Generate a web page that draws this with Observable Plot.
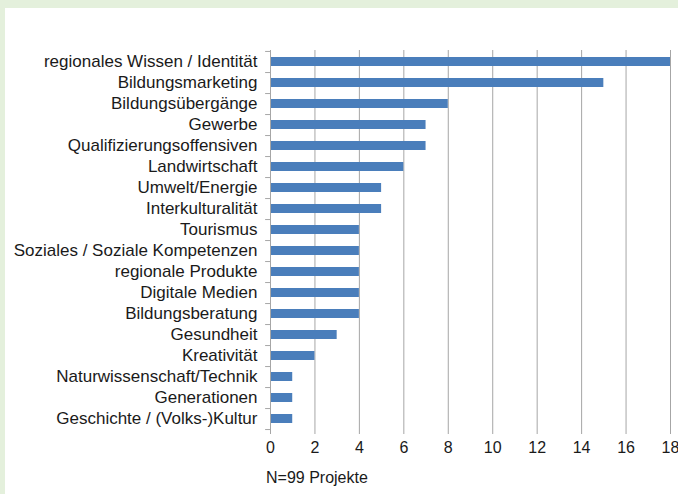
<!DOCTYPE html>
<html>
<head>
<meta charset="utf-8">
<script src="https://cdn.jsdelivr.net/npm/d3@7"></script>
<script src="https://cdn.jsdelivr.net/npm/@observablehq/plot@0.6"></script>
<style>
  html, body { margin: 0; padding: 0; background: #e4f0dc; }
  body { width: 678px; height: 494px; overflow: hidden; }
  #panel { position: absolute; left: 5px; top: 8px; width: 673px; height: 486px; background: #ffffff; }
  #caption { position: absolute; left: 266px; top: 469px; font-family: "Liberation Sans", Arial, sans-serif; font-size: 16px; color: #1a1a1a; }
</style>
</head>
<body>
<div id="panel"><div id="chart"></div></div>
<div id="caption">N=99 Projekte</div>
<script>
const categories = [
  "regionales Wissen / Identität",
  "Bildungsmarketing",
  "Bildungsübergänge",
  "Gewerbe",
  "Qualifizierungsoffensiven",
  "Landwirtschaft",
  "Umwelt/Energie",
  "Interkulturalität",
  "Tourismus",
  "Soziales / Soziale Kompetenzen",
  "regionale Produkte",
  "Digitale Medien",
  "Bildungsberatung",
  "Gesundheit",
  "Kreativität",
  "Naturwissenschaft/Technik",
  "Generationen",
  "Geschichte / (Volks-)Kultur"
];
const values = [18, 15, 8, 7, 7, 6, 5, 5, 4, 4, 4, 4, 4, 3, 2, 1, 1, 1];
const xTicks = [0, 2, 4, 6, 8, 10, 12, 14, 16, 18];

const data = categories.map((c, i) => ({category: c, value: values[i]}));

const chart = Plot.plot({
  width: 673,
  height: 452,
  marginLeft: 265,
  marginRight: 8,
  marginTop: 42,
  marginBottom: 30,
  style: {fontFamily: '"Liberation Sans", Arial, sans-serif', fontSize: "16px", color: "#1a1a1a", background: "transparent"},
  x: {type: "linear", domain: [0, 18], ticks: xTicks, label: null},
  y: {type: "band", domain: categories, label: null, paddingInner: 0.57, paddingOuter: 0.285, align: 0.5},
  marks: [
    Plot.gridX(xTicks, {stroke: "#a6a6a6", strokeOpacity: 1, strokeWidth: 1}),
    Plot.barX(data, {x: "value", y: "category", fill: "#4a7ebb"}),
    Plot.axisX(xTicks, {tickSize: 4, tickPadding: 7, stroke: "#a6a6a6", fontSize: 16, fill: "#1a1a1a"}),
    Plot.axisY({tickSize: 0, tickPadding: 13, fontSize: 17, fill: "#1a1a1a"}),
    Plot.ruleX([0], {stroke: "#a6a6a6"}),
    Plot.ruleY(categories, {y: d => d, x1: -0.22, x2: 0, dy: 10.55, stroke: "#a6a6a6"}),
    Plot.ruleY(categories.slice(0, 1), {y: d => d, x1: -0.22, x2: 0, dy: -10.55, stroke: "#a6a6a6"})
  ]
});
document.getElementById("chart").appendChild(chart);
</script>
</body>
</html>
